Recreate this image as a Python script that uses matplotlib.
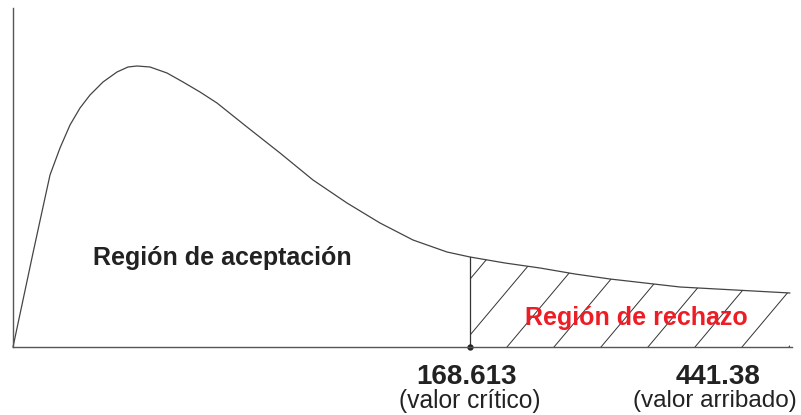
import numpy as np
import matplotlib
matplotlib.use("Agg")
import matplotlib.pyplot as plt
from matplotlib.patches import Polygon

# Curve (abstract units: x along axis, y density height)
curve_x = [0, 10, 20, 30, 37, 47, 57, 67, 77, 90, 104, 115, 124, 137, 154, 170,
           187, 204, 234, 267, 300, 334, 367, 400, 434, 457, 492, 527, 562,
           597, 632, 667, 722, 777]
curve_y = [0, 47, 94, 140, 172, 199, 222, 239, 252, 265, 275, 280, 281, 280,
           274, 265, 255, 244, 220, 194, 167, 144, 124, 107, 95, 90, 84, 79,
           73, 68, 64, 60, 57, 54]
critical_pos = 457
critical_label = "168.613"
critical_note = "(valor crítico)"
observed_pos = 704
observed_label = "441.38"
observed_note = "(valor arribado)"
accept_label = "Región de aceptación"
reject_label = "Región de rechazo"

W, H = 801, 415
fig = plt.figure(figsize=(W / 100, H / 100), dpi=100)
ax = fig.add_axes([13 / W, (H - 347) / H, 779 / W, 339 / H])
ax.set_xlim(0, 779)
ax.set_ylim(0, 339)
for s in ["top", "right"]:
    ax.spines[s].set_visible(False)
for s in ["left", "bottom"]:
    ax.spines[s].set_color("#555555")
    ax.spines[s].set_linewidth(1.0)
ax.set_xticks([])
ax.set_yticks([])

cx = np.array(curve_x, float)
cy = np.array(curve_y, float)
ax.plot(cx, cy, color="#444444", lw=0.9, solid_joinstyle="round",
        solid_capstyle="round", antialiased=True, clip_on=False)

# rejection region polygon
mask = cx >= critical_pos
px = np.concatenate([[critical_pos], cx[mask], [cx[-1]]])
py = np.concatenate([[0], cy[mask], [0]])
poly = Polygon(np.column_stack([px, py]), closed=True, facecolor="none",
               edgecolor="none")
ax.add_patch(poly)
slope = 75 / 63
for b in np.arange(critical_pos - 104, 800, 47):
    ln, = ax.plot([b, b + 340 / slope], [0, 340], color="#333333", lw=0.7)
    ln.set_clip_path(poly)

ax.plot([critical_pos, critical_pos], [0, np.interp(critical_pos, cx, cy)],
        color="#333333", lw=0.9)
ax.plot([critical_pos], [0], "o", color="#222222", ms=3.5, clip_on=False)

fam = ["Liberation Sans", "DejaVu Sans"]
ax.text(209, 89, accept_label, fontsize=18, fontweight="bold", color="#222222",
        ha="center", va="center", family=fam)
ax.text(623, 29, reject_label, fontsize=18, fontweight="bold", color="#ee1c25",
        ha="center", va="center", family=fam)
ax.text(critical_pos - 3, -30, critical_label, fontsize=20, fontweight="bold",
        color="#222222", ha="center", va="center", family=fam, clip_on=False)
ax.text(critical_pos, -54, critical_note, fontsize=17.7, color="#222222",
        ha="center", va="center", family=fam, clip_on=False)
ax.text(observed_pos + 1, -30, observed_label, fontsize=20, fontweight="bold",
        color="#222222", ha="center", va="center", family=fam, clip_on=False)
ax.text(observed_pos - 2, -54, observed_note, fontsize=17.5, color="#222222",
        ha="center", va="center", family=fam, clip_on=False)

fig.savefig("out.png", dpi=100)
